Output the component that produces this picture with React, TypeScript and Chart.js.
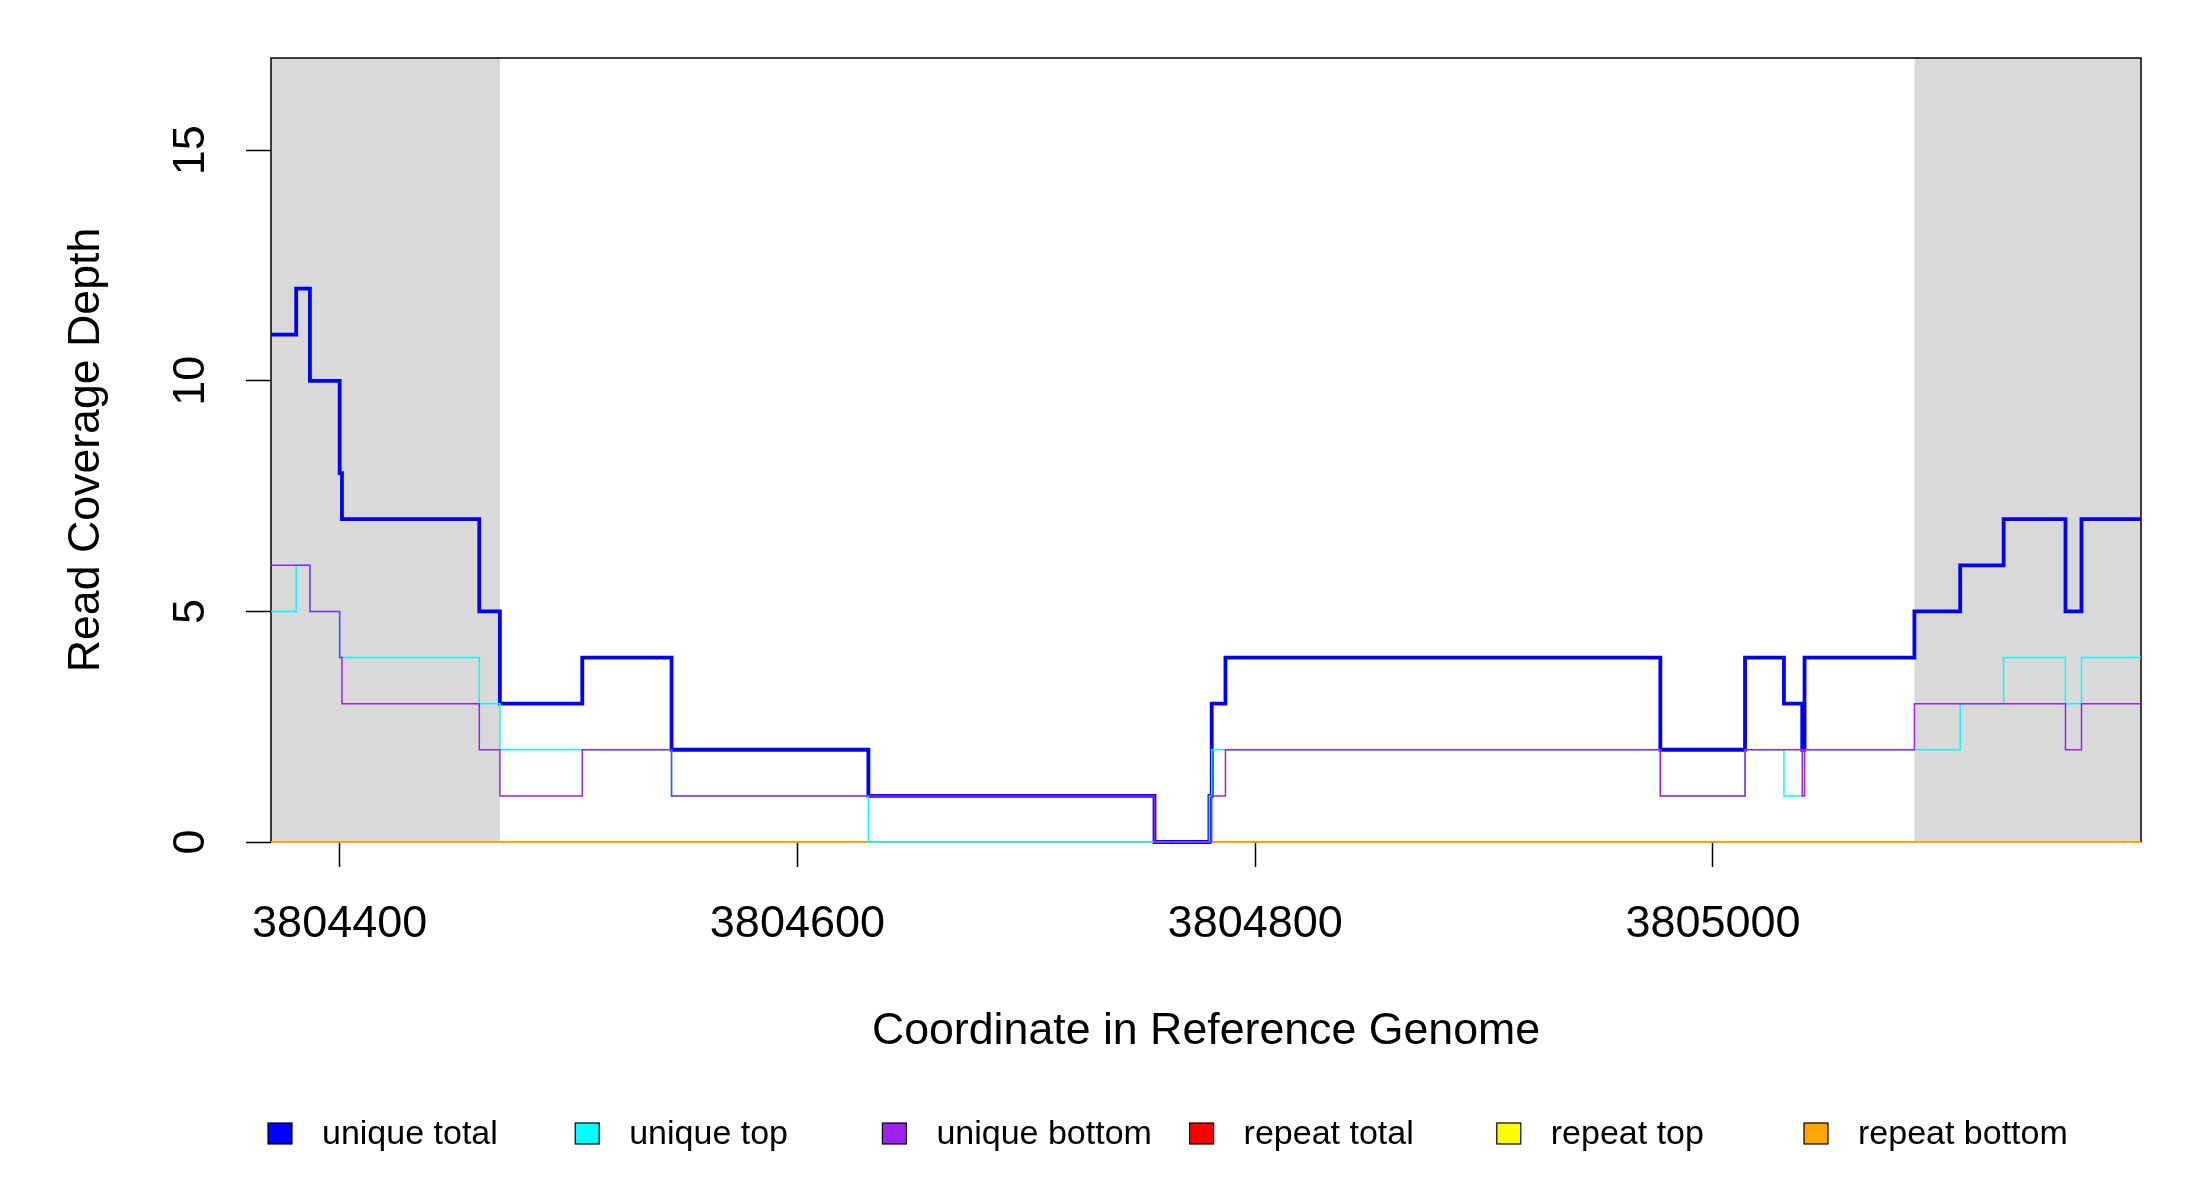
import React, { useEffect, useRef } from "react";
import { Chart, registerables } from "chart.js";

Chart.register(...registerables);

// ---- data ----
const positions = [
  3804370, 3804381, 3804387, 3804400, 3804401, 3804461, 3804470, 3804506, 3804545,
  3804631, 3804756, 3804780, 3804781, 3804787, 3804977, 3805014, 3805031, 3805039,
  3805040, 3805088, 3805108, 3805127, 3805154, 3805161, 3805187,
];
const uniqueTotal = [11, 12, 10, 8, 7, 5, 3, 4, 2, 1, 0, 1, 3, 4, 2, 4, 3, 2, 4, 5, 6, 7, 5, 7, 7];
const uniqueTop = [5, 6, 5, 4, 4, 3, 2, 2, 1, 0, 0, 1, 2, 2, 1, 2, 1, 1, 2, 2, 3, 4, 3, 4, 4];
const uniqueBottom = [6, 6, 5, 4, 3, 2, 1, 2, 1, 1, 0, 0, 1, 2, 1, 2, 2, 1, 2, 3, 3, 3, 2, 3, 3];
const repeatPositions = [3804370, 3805187];
const repeatTotal = [0, 0];
const repeatTop = [0, 0];
const repeatBottom = [0, 0];

const seriesLabels = ["unique total", "unique top", "unique bottom", "repeat total", "repeat top", "repeat bottom"];
const seriesColors = ["#0000FF", "#00FFFF", "#A020F0", "#FF0000", "#FFFF00", "#FFA500"];
const seriesWidths = [3.8, 1.5, 1.5, 2, 2, 2];
const seriesOrder = [3, 2, 1, 6, 5, 4];

const xTicks = [3804400, 3804600, 3804800, 3805000];
const yTicks = [0, 5, 10, 15];
const xRange = [3804370, 3805187];
const yRange = [0, 17];
const flankRegions = [
  [3804370, 3804470],
  [3805088, 3805187],
];

const FONT = '"Liberation Sans", Arial, sans-serif';

const toPoints = (xs: number[], ys: number[]) => xs.map((x, i) => ({ x, y: ys[i] }));

const backgroundPlugin = {
  id: "flankAndBox",
  beforeDatasetsDraw(chart: any) {
    const { ctx, chartArea, scales } = chart;
    ctx.save();
    ctx.fillStyle = "#D9D9D9";
    flankRegions.forEach(([a, b]) => {
      const x1 = scales.x.getPixelForValue(a);
      const x2 = scales.x.getPixelForValue(b);
      ctx.fillRect(x1, chartArea.top, x2 - x1, chartArea.bottom - chartArea.top);
    });
    ctx.strokeStyle = "#000";
    ctx.lineWidth = 1.5;
    ctx.strokeRect(chartArea.left, chartArea.top, chartArea.right - chartArea.left, chartArea.bottom - chartArea.top);
    ctx.restore();
  },
};

const legendPlugin = {
  id: "rLegend",
  afterDraw(chart: any) {
    const { ctx } = chart;
    ctx.save();
    chart.data.datasets.forEach((ds: any, i: number) => {
      const bx = 268 + i * 307.2;
      const by = 1123;
      ctx.fillStyle = ds.borderColor;
      ctx.fillRect(bx, by, 24, 21);
      ctx.strokeStyle = "#000";
      ctx.lineWidth = 1.2;
      ctx.strokeRect(bx, by, 24, 21);
      ctx.fillStyle = "#000";
      ctx.font = `34px ${FONT}`;
      ctx.textAlign = "left";
      ctx.textBaseline = "middle";
      ctx.fillText(ds.label, bx + 54, by + 12);
    });
    ctx.restore();
  },
};

export default function App() {
  const canvasRef = useRef<HTMLCanvasElement | null>(null);

  useEffect(() => {
    document.body.style.margin = "0";
    const canvas = canvasRef.current;
    if (!canvas) return;

    const seriesData = [
      toPoints(positions, uniqueTotal),
      toPoints(positions, uniqueTop),
      toPoints(positions, uniqueBottom),
      toPoints(repeatPositions, repeatTotal),
      toPoints(repeatPositions, repeatTop),
      toPoints(repeatPositions, repeatBottom),
    ];

    const chart = new Chart(canvas, {
      type: "line",
      data: {
        datasets: seriesData.map((d, i) => ({
          label: seriesLabels[i],
          data: d,
          borderColor: seriesColors[i],
          backgroundColor: seriesColors[i],
          borderWidth: seriesWidths[i],
          pointRadius: 0,
          stepped: "before" as const,
          fill: false,
          clip: false as any,
          order: seriesOrder[i],
        })),
      },
      options: {
        responsive: false,
        animation: false,
        devicePixelRatio: 1,
        layout: { padding: { top: 58, right: 59, left: 0, bottom: 0 } },
        plugins: { legend: { display: false }, tooltip: { enabled: false } },
        scales: {
          x: {
            type: "linear",
            min: xRange[0],
            max: xRange[1],
            afterBuildTicks: (axis: any) => {
              axis.ticks = xTicks.map((v) => ({ value: v }));
            },
            afterFit: (axis: any) => {
              axis.height = 358;
            },
            grid: {
              drawOnChartArea: false,
              drawTicks: true,
              tickLength: 25,
              tickColor: "#000",
              tickWidth: 1.5,
            },
            border: { display: false },
            ticks: {
              autoSkip: false,
              maxRotation: 0,
              minRotation: 0,
              padding: 31,
              color: "#000",
              font: { family: FONT, size: 45 },
              callback: (v: any) => String(v),
            },
            title: {
              display: true,
              text: "Coordinate in Reference Genome",
              color: "#000",
              font: { family: FONT, size: 44.7 },
              padding: { top: 0, bottom: 142 },
            },
          },
          y: {
            type: "linear",
            min: yRange[0],
            max: yRange[1],
            afterBuildTicks: (axis: any) => {
              axis.ticks = yTicks.map((v) => ({ value: v }));
            },
            afterFit: (axis: any) => {
              axis.width = 271;
            },
            grid: {
              drawOnChartArea: false,
              drawTicks: true,
              tickLength: 25,
              tickColor: "#000",
              tickWidth: 1.5,
            },
            border: { display: false },
            ticks: {
              autoSkip: false,
              minRotation: 90,
              maxRotation: 90,
              crossAlign: "center",
              padding: 29,
              color: "#000",
              font: { family: FONT, size: 45 },
              callback: (v: any) => String(v),
            },
            title: {
              display: true,
              text: "Read Coverage Depth",
              color: "#000",
              font: { family: FONT, size: 44.7 },
              padding: { top: 60, bottom: 0 },
            },
          },
        },
      },
      plugins: [backgroundPlugin, legendPlugin],
    });

    return () => chart.destroy();
  }, []);

  return (
    <canvas
      ref={canvasRef}
      width={2200}
      height={1200}
      style={{ display: "block", width: "2200px", height: "1200px" }}
    />
  );
}
